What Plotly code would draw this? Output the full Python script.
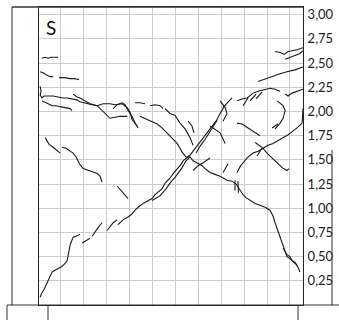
import plotly.graph_objects as go

# ---- data (x: time index, y: value) ----
s01_x = [1.7, 3.1, 4.4, 5.7, 7.0, 8.7]
s01_y = [2.55, 2.56, 2.55, 2.56, 2.56, 2.56]

s02_x = [0.9, 2.2, 3.5, 5.2, 6.6]
s02_y = [2.41, 2.40, 2.38, 2.36, 2.36]
s03_x = [9.2, 11.4, 14.0, 15.7, 17.9]
s03_y = [2.35, 2.35, 2.34, 2.34, 2.33]

s04_x = [0.9, 1.3, 0.9, 1.7, 2.6, 4.4, 6.6, 8.7, 10.9, 12.7, 14.8, 17.0, 18.3, 19.7, 21.4, 23.6, 25.8, 27.1,
         28.4, 30.1, 31.4, 33.6, 35.4, 36.7, 38.9, 40.2, 41.0, 42.4, 43.2]
s04_y = [2.26, 2.21, 2.17, 2.14, 2.16, 2.16, 2.16, 2.15, 2.14, 2.14, 2.13, 2.12, 2.10, 2.09, 2.08, 2.07, 2.06, 2.07,
         2.08, 2.08, 2.08, 2.07, 2.08, 2.08, 2.04, 1.99, 1.92, 1.88, 1.85]

s05_x = [1.7, 3.1, 4.4, 6.1, 7.9, 9.6, 11.8, 14.0, 14.8]
s05_y = [2.11, 2.09, 2.08, 2.06, 2.06, 2.05, 2.04, 2.03, 2.01]

s06_x = [15.3, 17.0, 18.3, 20.5, 22.7, 25.8, 27.1, 28.4, 30.1, 31.4, 33.6, 35.8, 38.9]
s06_y = [2.18, 2.15, 2.14, 2.11, 2.08, 2.06, 2.03, 1.99, 1.95, 1.93, 1.94, 1.95, 1.95]

s07_x = [32.8, 34.5, 36.7, 38.0, 39.3, 41.0, 42.4, 43.7]
s07_y = [2.03, 2.07, 2.09, 2.07, 2.01, 1.95, 1.88, 1.83]

s08_x = [42.4, 44.5, 46.7]
s08_y = [2.09, 2.09, 2.08]
s09_x = [48.9, 51.1, 53.3, 54.6]
s09_y = [2.06, 2.07, 2.06, 2.03]

s10_x = [44.5, 46.3, 47.6, 49.8, 52.0, 54.1, 56.3, 58.5, 60.7, 62.0, 62.9, 64.6, 66.4, 67.7, 69.4, 71.6, 73.4,
         75.1, 77.3, 79.5, 82.5, 84.7, 86.5, 88.2, 89.5, 90.8, 92.6, 94.8, 96.9, 99.1, 101.3, 102.6, 103.5,
         104.4, 105.2, 106.1, 107.0, 107.9, 108.7, 110.0, 111.4, 112.7, 113.5, 114.4]
s10_y = [1.95, 1.93, 1.92, 1.89, 1.87, 1.83, 1.78, 1.73, 1.67, 1.62, 1.58, 1.53, 1.53, 1.49, 1.47, 1.44, 1.40,
         1.37, 1.35, 1.33, 1.29, 1.28, 1.25, 1.18, 1.14, 1.11, 1.08, 1.05, 1.03, 1.01, 0.98, 0.92, 0.85,
         0.79, 0.74, 0.69, 0.63, 0.57, 0.50, 0.48, 0.45, 0.42, 0.39, 0.34]
s11_x = [107.0, 108.7, 110.0, 110.9, 112.2, 113.1]
s11_y = [0.59, 0.52, 0.50, 0.46, 0.44, 0.41]

s12_x = [55.5, 57.6, 59.8, 62.0, 64.2, 66.4, 67.7]
s12_y = [2.03, 1.98, 1.96, 1.88, 1.82, 1.73, 1.65]
s13_x = [65.5, 67.2, 68.1]
s13_y = [1.90, 1.85, 1.78]

s14_x = [0.9, 1.7, 2.6, 3.5, 4.4, 5.2, 6.1, 7.4, 8.7, 10.5, 11.8, 12.7, 13.1, 13.5, 14.0, 14.8, 15.3, 16.6, 18.3]
s14_y = [0.08, 0.13, 0.16, 0.21, 0.26, 0.29, 0.34, 0.36, 0.38, 0.40, 0.43, 0.46, 0.51, 0.57, 0.62, 0.67, 0.70, 0.71, 0.73]
s15_x = [19.2, 21.0, 22.7]
s15_y = [0.64, 0.67, 0.69]
s16_x = [23.6, 24.9, 26.2, 27.9]
s16_y = [0.71, 0.76, 0.80, 0.85]
s17_x = [30.1, 31.4, 32.8, 34.5]
s17_y = [0.77, 0.81, 0.85, 0.88]
s18_x = [34.9, 37.1, 39.3, 41.0, 42.4, 43.7, 45.9, 48.0, 49.8, 51.1, 52.4, 54.1, 55.5, 57.6, 59.4, 60.7, 62.0,
         63.3, 65.1, 66.4, 67.7, 69.0, 70.7, 72.5, 74.2, 76.0, 77.7, 79.5, 81.2, 83.0, 84.7]
s18_y = [0.83, 0.88, 0.91, 0.94, 0.98, 1.01, 1.05, 1.08, 1.10, 1.14, 1.17, 1.20, 1.26, 1.31, 1.37, 1.40, 1.44,
         1.49, 1.52, 1.55, 1.59, 1.63, 1.68, 1.73, 1.79, 1.85, 1.90, 1.98, 2.05, 2.10, 2.14]
s19_x = [49.8, 53.3, 55.9, 57.6, 59.8, 61.1, 62.9, 64.6, 66.4]
s19_y = [1.08, 1.13, 1.20, 1.26, 1.32, 1.36, 1.42, 1.49, 1.53]
s20_x = [69.0, 70.7, 72.9, 74.7, 76.4, 78.2]
s20_y = [1.57, 1.64, 1.71, 1.78, 1.85, 1.91]

s21_x = [86.9, 89.1, 91.3, 92.6, 93.9, 96.1, 97.8, 99.1, 101.3, 103.5, 105.7]
s21_y = [2.11, 2.13, 2.14, 2.17, 2.19, 2.21, 2.22, 2.23, 2.24, 2.23, 2.21]
s22_x = [89.5, 91.7]
s22_y = [2.06, 2.14]
s23_x = [92.6, 95.2]
s23_y = [2.11, 2.18]
s24_x = [95.2, 97.8]
s24_y = [2.13, 2.20]
s25_x = [107.9, 109.2, 110.9, 113.1, 115.7]
s25_y = [2.18, 2.16, 2.19, 2.21, 2.23]

s26_x = [96.1, 98.3, 100.4, 102.6, 105.7, 108.7, 112.2, 115.7]
s26_y = [2.31, 2.33, 2.35, 2.37, 2.39, 2.41, 2.43, 2.46]
s27_x = [103.5, 105.7, 107.5, 109.2, 111.4, 113.5, 115.7]
s27_y = [2.62, 2.61, 2.59, 2.62, 2.63, 2.64, 2.66]
s28_x = [107.9, 110.0, 112.2, 114.4, 115.7]
s28_y = [2.54, 2.56, 2.58, 2.60, 2.63]

s29_x = [79.5, 81.7, 82.5, 80.8]
s29_y = [2.11, 2.04, 1.98, 1.90]
s30_x = [86.9, 89.1, 91.7, 93.9, 95.6, 96.9]
s30_y = [1.88, 1.87, 1.83, 1.80, 1.77, 1.75]
s31_x = [104.4, 107.0, 107.9, 107.0, 105.7, 103.5]
s31_y = [2.11, 2.06, 2.01, 1.93, 1.88, 1.82]
s32_x = [102.2, 104.8]
s32_y = [1.83, 1.87]

s33_x = [86.9, 88.2, 89.5, 91.3, 93.9, 96.1, 98.3, 100.4, 102.6, 104.8, 107.0, 109.2, 111.4, 113.1, 115.3,
         115.7, 115.7]
s33_y = [1.37, 1.43, 1.47, 1.52, 1.57, 1.59, 1.62, 1.65, 1.67, 1.70, 1.73, 1.76, 1.80, 1.83, 1.88, 1.98, 2.03]
s34_x = [80.8, 82.1, 83.0]
s34_y = [1.37, 1.42, 1.46]
s35_x = [95.6, 97.8]
s35_y = [1.54, 1.62]

s36_x = [94.8, 97.8, 100.4, 102.6, 104.8, 106.6, 108.7, 109.6]
s36_y = [1.68, 1.63, 1.56, 1.51, 1.46, 1.42, 1.39, 1.41]

s37_x = [3.1, 3.9, 4.8, 6.6, 8.3, 9.6]
s37_y = [1.73, 1.69, 1.66, 1.63, 1.60, 1.57]
s38_x = [10.5, 12.2, 14.0, 15.3, 16.6, 17.5, 18.3, 19.7, 21.8, 24.0, 25.8, 27.1, 27.9]
s38_y = [1.63, 1.62, 1.59, 1.57, 1.53, 1.49, 1.45, 1.41, 1.39, 1.37, 1.36, 1.33, 1.27]
s39_x = [34.5, 36.2, 38.0, 39.3]
s39_y = [1.23, 1.18, 1.13, 1.10]

s40_x = [67.7, 69.9, 72.1, 75.1]
s40_y = [1.39, 1.44, 1.47, 1.52]
s41_x = [75.1, 79.5, 81.7]
s41_y = [1.85, 1.78, 1.67]
s42_x = [86.0, 86.0]
s42_y = [1.29, 1.18]
s43_x = [87.3, 87.5]
s43_y = [1.28, 1.16]

segments = [
    (s01_x, s01_y), (s02_x, s02_y), (s03_x, s03_y), (s04_x, s04_y), (s05_x, s05_y), (s06_x, s06_y),
    (s07_x, s07_y), (s08_x, s08_y), (s09_x, s09_y), (s10_x, s10_y), (s11_x, s11_y), (s12_x, s12_y),
    (s13_x, s13_y), (s14_x, s14_y), (s15_x, s15_y), (s16_x, s16_y), (s17_x, s17_y), (s18_x, s18_y),
    (s19_x, s19_y), (s20_x, s20_y), (s21_x, s21_y), (s22_x, s22_y), (s23_x, s23_y), (s24_x, s24_y),
    (s25_x, s25_y), (s26_x, s26_y), (s27_x, s27_y), (s28_x, s28_y), (s29_x, s29_y), (s30_x, s30_y),
    (s31_x, s31_y), (s32_x, s32_y), (s33_x, s33_y), (s34_x, s34_y), (s35_x, s35_y), (s36_x, s36_y),
    (s37_x, s37_y), (s38_x, s38_y), (s39_x, s39_y), (s40_x, s40_y), (s41_x, s41_y), (s42_x, s42_y),
    (s43_x, s43_y),
]

y_ticks = [0.25, 0.5, 0.75, 1.0, 1.25, 1.5, 1.75, 2.0, 2.25, 2.5, 2.75, 3.0]
panel_label = "S"

all_x, all_y = [], []
for xs, ys in segments:
    all_x += list(xs) + [None]
    all_y += list(ys) + [None]

fig = go.Figure()
fig.add_trace(go.Scatter(x=all_x, y=all_y, mode="lines", connectgaps=False,
                         line=dict(color="#1a1a1a", width=1.1), hoverinfo="skip", showlegend=False))

W, H = 339, 320
L, R, T, B = 39, 36, 7, 15
pw, ph = W - L - R, H - T - B


def fx(px):
    return (px - L) / pw


def fy(py):
    return (H - B - py) / ph


frame = "#333333"
shapes = [
    dict(type="line", xref="paper", yref="paper", x0=fx(12), x1=fx(12), y0=0, y1=1, line=dict(color=frame, width=1)),
    dict(type="line", xref="paper", yref="paper", x0=fx(12), x1=1, y0=1, y1=1, line=dict(color=frame, width=1.5)),
    dict(type="line", xref="paper", yref="paper", x0=fx(7), x1=fx(339), y0=0, y1=0, line=dict(color=frame, width=1)),
    dict(type="line", xref="paper", yref="paper", x0=fx(7), x1=fx(7), y0=0, y1=fy(320), line=dict(color=frame, width=1)),
    dict(type="line", xref="paper", yref="paper", x0=fx(48), x1=fx(48), y0=0, y1=fy(320), line=dict(color=frame, width=1)),
    dict(type="line", xref="paper", yref="paper", x0=fx(298), x1=fx(298), y0=0, y1=fy(320), line=dict(color=frame, width=1)),
    dict(type="line", xref="paper", yref="paper", x0=fx(332), x1=fx(332), y0=0, y1=fy(150), line=dict(color=frame, width=1)),
]

fig.update_layout(
    width=W, height=H,
    margin=dict(l=L, r=R, t=T, b=B, pad=0, autoexpand=False),
    paper_bgcolor="white", plot_bgcolor="white",
    separators=", ",
    font=dict(family="Lato, Carlito, sans-serif", size=13, color="#222222"),
    showlegend=False,
    shapes=shapes,
    annotations=[dict(text=panel_label, xref="paper", yref="paper", x=fx(51), y=fy(27),
                      xanchor="center", yanchor="middle", showarrow=False,
                      font=dict(family="Lato, sans-serif", size=19, color="#111111"))],
)
fig.update_xaxes(range=[0.4, 115.7], dtick=10, tick0=0, showticklabels=False, ticks="", ticklen=0,
                 automargin=False,
                 showgrid=True, gridcolor="#cccccc", gridwidth=1, zeroline=False,
                 showline=True, linecolor="#222222", linewidth=1, mirror=True)
fig.update_yaxes(range=[0, 3.08], tickvals=y_ticks, tickformat=".2f", side="right", ticks="", ticklen=0,
                 automargin=False, ticklabelstandoff=1,
                 showgrid=True, gridcolor="#cccccc", gridwidth=1, zeroline=False,
                 showline=True, linecolor="#222222", linewidth=1, mirror=True)

fig.write_html("out.html", config={"displayModeBar": False},
               post_script="document.body.style.margin='0';document.body.style.overflow='hidden';")
